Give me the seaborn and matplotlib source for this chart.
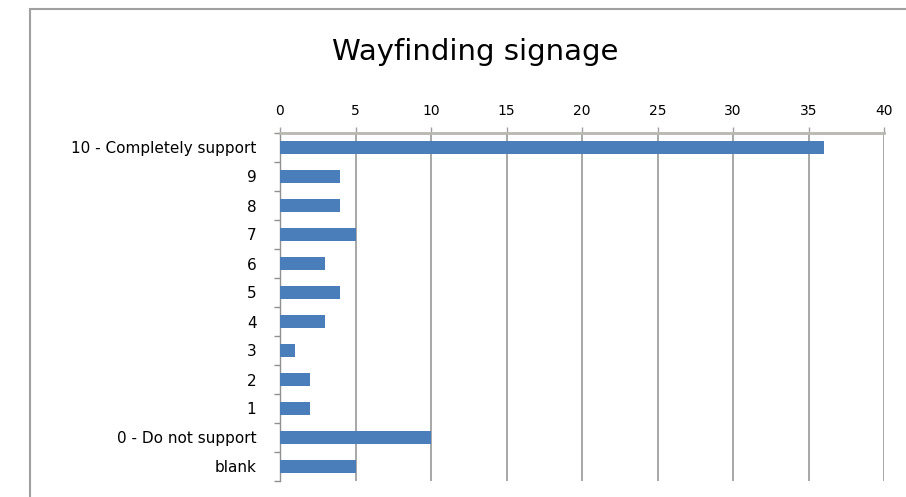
import matplotlib
matplotlib.use('Agg')
import matplotlib.pyplot as plt
import seaborn as sns
import pandas as pd
import numpy as np
from matplotlib.patches import Rectangle

# --- data ---
categories = ['10 - Completely support', '9', '8', '7', '6', '5', '4', '3', '2', '1',
              '0 - Do not support', 'blank']
counts = [36, 4, 4, 5, 3, 4, 3, 1, 2, 2, 10, 5]
x_ticks = [0, 5, 10, 15, 20, 25, 30, 35, 40]

df = pd.DataFrame({'answer': categories, 'count': counts})

sns.set_style('white')
plt.rcParams['font.family'] = ['DejaVu Sans']
plt.rcParams['text.color'] = 'black'
plt.rcParams['xtick.color'] = 'black'
plt.rcParams['ytick.color'] = 'black'

fig = plt.figure(figsize=(9.06, 4.97), dpi=100)
ax = fig.add_axes([280 / 906, 1 - 481 / 497, (884 - 280) / 906, (481 - 133) / 497])

# outer chart frame
fig.patches.append(Rectangle((30 / 906, -0.05), 1.0, 1 - 9 / 497 + 0.05,
                             transform=fig.transFigure, fill=False,
                             edgecolor='#a0a0a0', linewidth=1.5, zorder=0))

sns.barplot(data=df, x='count', y='answer', orient='h', color='#4a7ebb',
            saturation=1, width=0.47, linewidth=0, ax=ax, zorder=3)

ax.set_xlim(0, 40)
ax.set_ylim(len(categories) - 0.5, -0.5)
ax.xaxis.tick_top()
ax.set_xticks(x_ticks)
ax.set_xticklabels([str(t) for t in x_ticks], fontsize=10)
ax.tick_params(axis='x', top=True, length=4, width=1, color='#a0a0a0', direction='out', pad=7)

# y ticks at category boundaries, labels at centers
ax.set_yticks(np.arange(len(categories)))
ax.set_yticklabels(categories, fontsize=11)
ax.tick_params(axis='y', which='major', length=0, pad=17)
ax.set_yticks(np.arange(len(categories) + 1) - 0.5, minor=True)
ax.tick_params(axis='y', which='minor', left=True, length=4, width=1, color='#909090', direction='out')

for t in x_ticks[1:]:
    ax.axvline(t, color='#a0a0a0', linewidth=1.3, zorder=1)

for s in ['right', 'bottom']:
    ax.spines[s].set_visible(False)
ax.spines['top'].set_color('#b8b8b0')
ax.spines['top'].set_linewidth(2)
ax.spines['left'].set_color('#909090')
ax.spines['left'].set_linewidth(1)

ax.set_xlabel('')
ax.set_ylabel('')

fig.text(0.524, 1 - 52 / 497, 'Wayfinding signage', ha='center', va='center',
         fontsize=21)

fig.savefig('out.png', dpi=100)
